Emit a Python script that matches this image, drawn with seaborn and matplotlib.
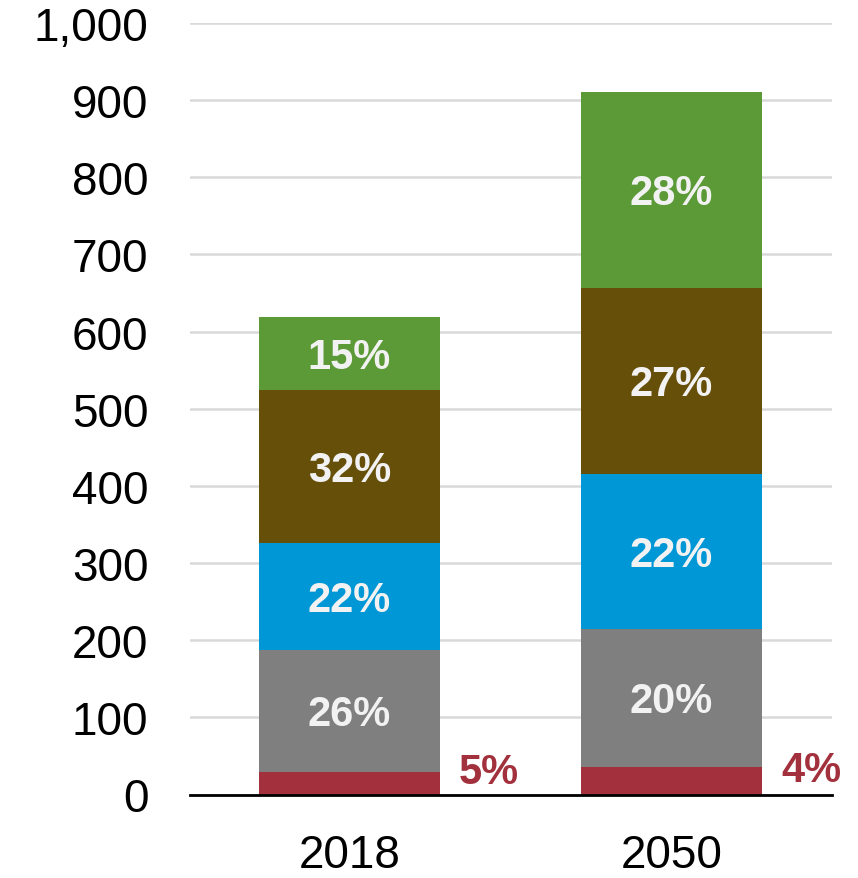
import numpy as np
import matplotlib.pyplot as plt
import seaborn as sns

years = ["2018", "2050"]
segments = ["red", "gray", "blue", "brown", "green"]
values_2018 = [29, 158, 139, 198, 95]
values_2050 = [36, 179, 200, 242, 253]
pct_2018 = ["5%", "26%", "22%", "32%", "15%"]
pct_2050 = ["4%", "20%", "22%", "27%", "28%"]
colors = ["#A3313D", "#7F7F7F", "#0097D6", "#664F08", "#5B9A36"]
yticks = [0, 100, 200, 300, 400, 500, 600, 700, 800, 900, 1000]

sns.set_style("white")
plt.rcParams["font.family"] = ["Liberation Sans", "DejaVu Sans"]

fig = plt.figure(figsize=(8.58, 8.79), dpi=100)
ax = fig.add_axes([190 / 858, 83.5 / 879, 642 / 858, 771.5 / 879])

vals = np.array([values_2018, values_2050], dtype=float)
bottom = np.zeros(len(years))
for i, seg in enumerate(segments):
    sns.barplot(x=years, y=vals[:, i], bottom=bottom, color=colors[i],
                width=0.56, saturation=1, ax=ax, linewidth=0)
    bottom = bottom + vals[:, i]

# percentage labels
pcts = [pct_2018, pct_2050]
for j in range(len(years)):
    cum = 0
    for i in range(len(segments)):
        v = vals[j, i]
        if i == 0:
            ax.annotate(pcts[j][i], xy=(j + 0.28, v / 2), xytext=(14, 8),
                        textcoords="offset points", ha="left", va="center",
                        fontsize=30, fontweight="bold", color=colors[0])
        else:
            ax.text(j, cum + v / 2 - 4, pcts[j][i], ha="center", va="center",
                    fontsize=30, fontweight="bold", color="#F2F2F2")
        cum += v

ax.set_ylim(0, 1000)
ax.set_xlim(-0.495, 1.498)
ax.set_yticks(yticks)
ax.set_yticklabels([f"{t:,}" for t in yticks])
ax.tick_params(axis="y", length=0, pad=30, labelsize=33, labelcolor="black")
ax.tick_params(axis="x", length=0, pad=28, labelsize=33, labelcolor="black")
ax.yaxis.grid(True, color="#D9D9D9", lw=1.8)
ax.set_axisbelow(True)
for s in ["left", "right", "top"]:
    ax.spines[s].set_visible(False)
ax.spines["bottom"].set_color("black")
ax.spines["bottom"].set_linewidth(2)
ax.set_xlabel("")
ax.set_ylabel("")

fig.savefig("out.png", dpi=100)
